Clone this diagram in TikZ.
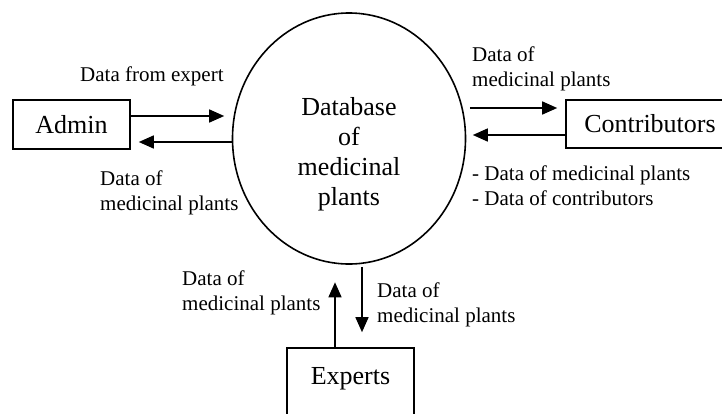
\documentclass[tikz,border=0pt]{standalone}
\usepackage{fontspec}
\setmainfont{Liberation Serif}
\usetikzlibrary{shapes.geometric, arrows.meta, positioning, calc}

\begin{document}
\begin{tikzpicture}[x=1pt, y=-1pt,
  entity/.style={draw, line width=1.6pt, minimum width=117pt, minimum height=49pt, font=\fontsize{26}{30}\selectfont, inner sep=0pt},
  store/.style={draw, ellipse, line width=1.6pt, minimum width=233pt, minimum height=251pt, inner sep=0pt},
  flow/.style={-{Triangle[length=15pt, width=13pt]}, line width=1.5pt},
  lbl/.style={font=\fontsize{21}{25}\selectfont, align=left, inner sep=0pt, anchor=north west}
]
  \useasboundingbox (0,0) rectangle (722,413);
  \clip (0,0) rectangle (722,413);

  % Data store
  \node[store] (db) at (349,138.5) {};
  \node[font=\fontsize{26}{30}\selectfont, align=center, inner sep=0pt, anchor=north] (dbtext) at (349,97) {Database\\of\\medicinal\\plants};

  % External entities
  \node[entity] (admin) at (71.5,124.5) {Admin};
  \node[entity, minimum width=168pt, minimum height=48pt] (contrib) at (650,124) {Contributors};
  \node[entity, minimum width=127pt, minimum height=72pt, text depth=16pt] (experts) at (350.5,384) {Experts};

  % Flows with Admin
  \draw[flow, shorten >=7.5pt] ([yshift=8.5pt]admin.east) -- ([yshift=8.5pt]admin.east -| db.west);
  \draw[flow, shorten >=8pt] ([yshift=-17.5pt]admin.east -| db.west) -- ([yshift=-17.5pt]admin.east);
  \node[lbl] (l-admin-in) at (80,66.5) {Data from expert};
  \node[lbl] (l-admin-out) at (100,170.5) {Data of\\medicinal plants};

  % Flows with Contributors
  \draw[flow, shorten <=3.5pt, shorten >=8pt] ([yshift=16pt]contrib.west -| db.east) -- ([yshift=16pt]contrib.west);
  \draw[flow, shorten >=6.5pt] ([yshift=-11pt]contrib.west) -- ([yshift=-11pt]contrib.west -| db.east);
  \node[lbl] (l-contrib-out) at (472,46.5) {Data of\\medicinal plants};
  \node[lbl] (l-contrib-in) at (472,165.5) {- Data of medicinal plants\\- Data of contributors};

  % Flows with Experts
  \draw[flow, shorten >=17.5pt] ([xshift=-15.5pt]experts.north) -- ([xshift=-15.5pt]experts.north |- db.south);
  \draw[flow, shorten <=2pt, shorten >=15pt] ([xshift=11.5pt]experts.north |- db.south) -- ([xshift=11.5pt]experts.north);
  \node[lbl] (l-experts-in) at (182,270.5) {Data of\\medicinal plants};
  \node[lbl] (l-experts-out) at (377,282.5) {Data of\\medicinal plants};
\end{tikzpicture}
\end{document}
